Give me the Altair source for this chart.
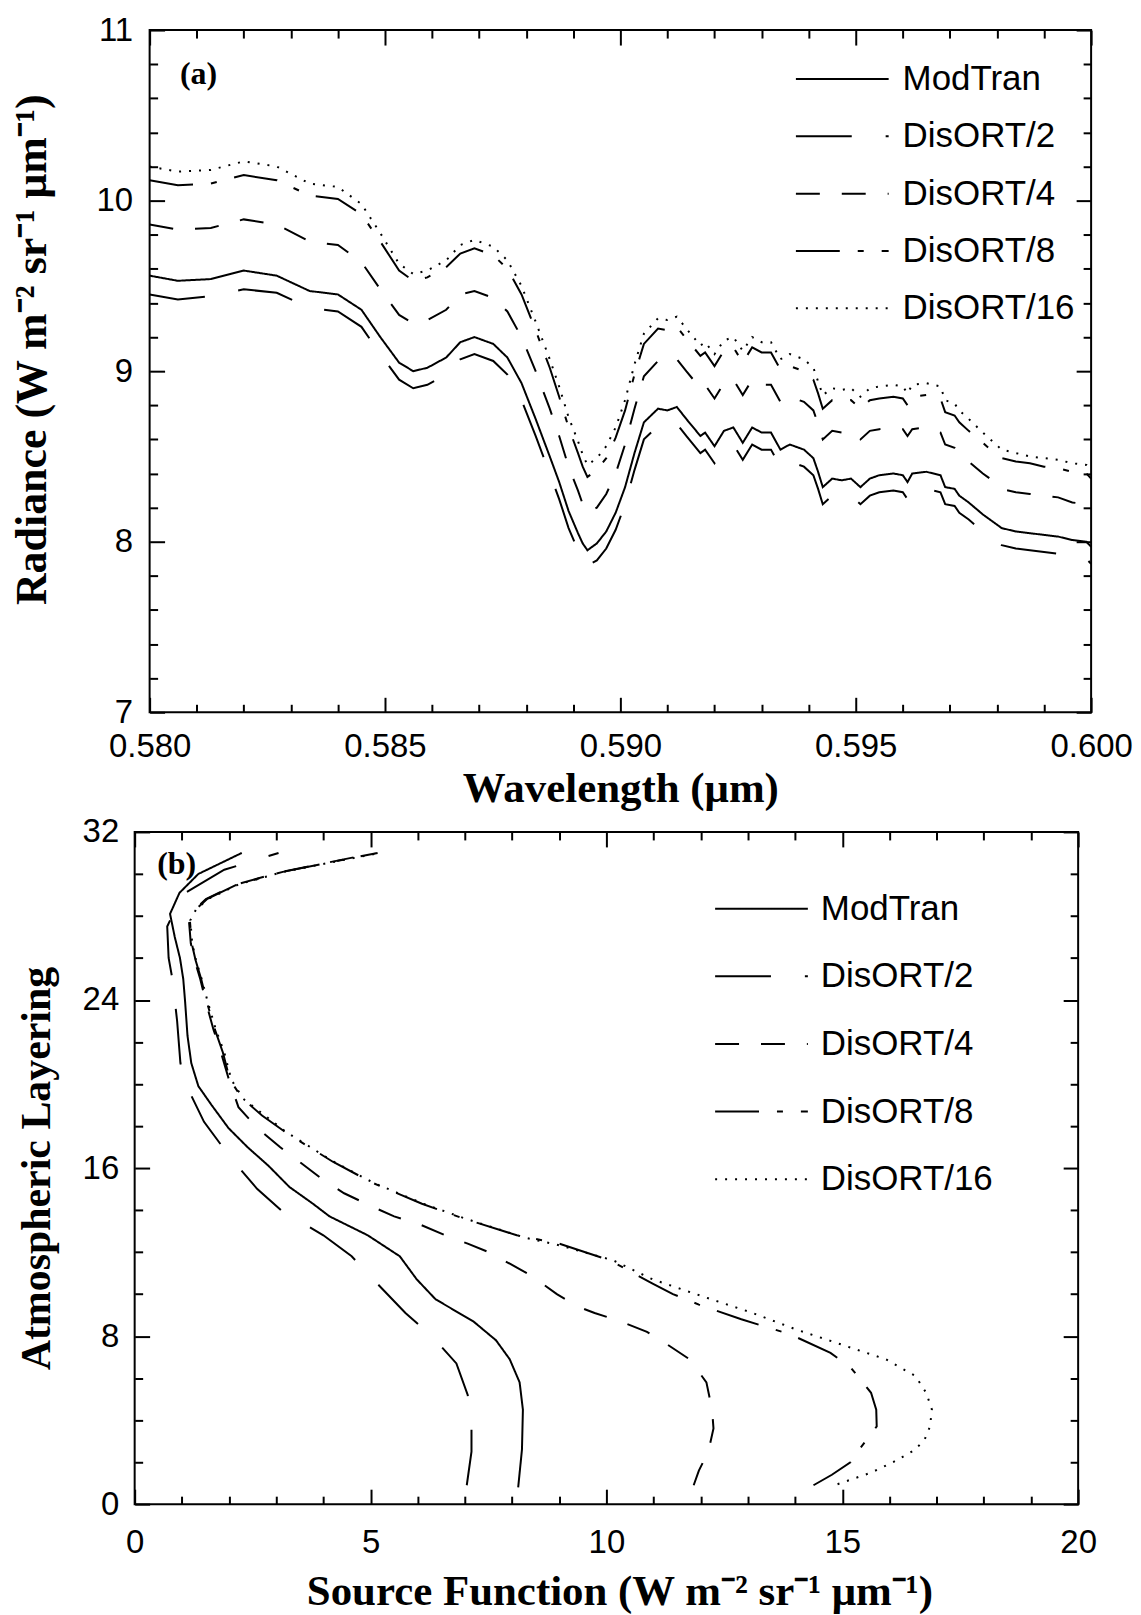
import altair as alt
import pandas as pd

SANS = "Liberation Sans"
SERIF = "Liberation Serif"

SERIES = ["ModTran", "DisORT/2", "DisORT/4", "DisORT/8", "DisORT/16"]
DASHES = [[1, 0], [56, 34], [24, 22], [44, 18, 6, 18], [2, 8]]

# ---------------- panel (a): radiance spectra ----------------
WAVELENGTH = [0.5800, 0.5806, 0.5813, 0.5820, 0.5827, 0.5834, 0.5840, 0.5845, 0.5849, 0.5853,
              0.5856, 0.5859, 0.5863, 0.5866, 0.5869, 0.5873, 0.5876, 0.5879, 0.5882, 0.5885,
              0.5887, 0.5889, 0.5891, 0.5892, 0.5893, 0.5895, 0.5897, 0.5899, 0.5901, 0.5903,
              0.5905, 0.5908, 0.5910, 0.5912, 0.5914, 0.5917, 0.5918, 0.5920, 0.5922, 0.5924,
              0.5926, 0.5928, 0.5930, 0.5932, 0.5934, 0.5936, 0.5939, 0.5941, 0.5942, 0.5943,
              0.5945, 0.5947, 0.5949, 0.5951, 0.5953, 0.5955, 0.5958, 0.5960, 0.5961, 0.5962,
              0.5965, 0.5968, 0.5969, 0.5971, 0.5972, 0.5974, 0.5977, 0.5979, 0.5981, 0.5984,
              0.5987, 0.5990, 0.5993, 0.5996, 0.5999, 0.6000]

RAD_MODTRAN = [9.56, 9.53, 9.54, 9.59, 9.56, 9.47, 9.45, 9.36, 9.20, 9.05,
               9.00, 9.02, 9.08, 9.17, 9.20, 9.16, 9.08, 8.93, 8.72, 8.50,
               8.35, 8.18, 8.05, 7.99, 7.95, 7.99, 8.06, 8.17, 8.32, 8.52,
               8.70, 8.78, 8.77, 8.79, 8.72, 8.62, 8.64, 8.56, 8.65, 8.67,
               8.58, 8.67, 8.64, 8.64, 8.54, 8.57, 8.54, 8.49, 8.41, 8.32,
               8.37, 8.36, 8.37, 8.32, 8.37, 8.39, 8.40, 8.39, 8.35, 8.40,
               8.41, 8.39, 8.32, 8.31, 8.27, 8.23, 8.16, 8.12, 8.08, 8.06,
               8.05, 8.04, 8.03, 8.01, 8.00, 7.97]

RAD_DISORT2 = [9.45, 9.42, 9.44, 9.48, 9.46, 9.37, 9.35, 9.26, 9.10, 8.95,
               8.90, 8.92, 8.98, 9.07, 9.10, 9.06, 8.98, 8.83, 8.62, 8.40,
               8.25, 8.08, 7.95, 7.89, 7.86, 7.89, 7.96, 8.07, 8.22, 8.42,
               8.60, 8.68, 8.67, 8.69, 8.62, 8.52, 8.54, 8.46, 8.55, 8.57,
               8.48, 8.57, 8.54, 8.54, 8.44, 8.47, 8.44, 8.39, 8.31, 8.22,
               8.27, 8.26, 8.27, 8.22, 8.27, 8.29, 8.30, 8.29, 8.25, 8.30,
               8.31, 8.29, 8.22, 8.21, 8.17, 8.13, 8.06, 8.02, 7.98, 7.96,
               7.95, 7.94, 7.93, 7.91, 7.90, 7.87]

RAD_DISORT4 = [9.86, 9.83, 9.84, 9.89, 9.86, 9.76, 9.74, 9.64, 9.48, 9.33,
               9.28, 9.30, 9.36, 9.45, 9.47, 9.43, 9.35, 9.20, 9.00, 8.78,
               8.62, 8.44, 8.30, 8.22, 8.17, 8.20, 8.28, 8.40, 8.57, 8.78,
               8.97, 9.06, 9.05, 9.07, 9.00, 8.90, 8.92, 8.84, 8.93, 8.95,
               8.86, 8.95, 8.92, 8.92, 8.82, 8.85, 8.82, 8.77, 8.69, 8.60,
               8.65, 8.64, 8.65, 8.60, 8.65, 8.66, 8.67, 8.66, 8.62, 8.66,
               8.67, 8.64, 8.57, 8.55, 8.51, 8.47, 8.40, 8.36, 8.31, 8.29,
               8.28, 8.27, 8.26, 8.23, 8.22, 8.19]

RAD_DISORT8 = [10.12, 10.09, 10.10, 10.15, 10.12, 10.03, 10.01, 9.92, 9.76, 9.59,
               9.53, 9.55, 9.61, 9.69, 9.72, 9.68, 9.60, 9.45, 9.24, 9.02,
               8.85, 8.67, 8.52, 8.44, 8.38, 8.42, 8.49, 8.61, 8.77, 8.98,
               9.16, 9.25, 9.24, 9.26, 9.19, 9.09, 9.11, 9.03, 9.12, 9.14,
               9.05, 9.14, 9.11, 9.11, 9.01, 9.03, 9.00, 8.95, 8.87, 8.78,
               8.83, 8.82, 8.83, 8.78, 8.83, 8.84, 8.85, 8.84, 8.80, 8.85,
               8.86, 8.84, 8.76, 8.74, 8.70, 8.65, 8.58, 8.53, 8.49, 8.47,
               8.46, 8.44, 8.43, 8.41, 8.40, 8.37]

RAD_DISORT16 = [10.20, 10.17, 10.18, 10.23, 10.20, 10.10, 10.08, 9.98, 9.81, 9.63,
                9.57, 9.59, 9.65, 9.74, 9.77, 9.73, 9.65, 9.50, 9.29, 9.07,
                8.91, 8.73, 8.59, 8.51, 8.45, 8.49, 8.56, 8.67, 8.83, 9.04,
                9.22, 9.31, 9.30, 9.32, 9.25, 9.15, 9.17, 9.10, 9.18, 9.20,
                9.12, 9.20, 9.17, 9.17, 9.07, 9.10, 9.07, 9.02, 8.94, 8.86,
                8.90, 8.89, 8.90, 8.85, 8.90, 8.91, 8.92, 8.91, 8.87, 8.92,
                8.93, 8.91, 8.83, 8.81, 8.77, 8.72, 8.64, 8.59, 8.54, 8.52,
                8.50, 8.49, 8.48, 8.46, 8.45, 8.42]

# ---------------- panel (b): source function profiles ----------------
LAYER_MODTRAN = [31.0, 30.0, 29.1, 28.1, 27.0, 26.0, 25.0, 23.9, 22.3, 21.0,
                 19.9, 19.0, 17.9, 17.0, 16.1, 15.1, 14.3, 13.7, 12.8, 11.8,
                 10.7, 9.75, 8.7, 7.8, 6.9, 5.8, 4.5, 2.6, 0.8]
SRC_MODTRAN = [2.27, 1.35, 0.95, 0.75, 0.85, 0.96, 1.03, 1.07, 1.12, 1.20,
               1.35, 1.63, 1.99, 2.39, 2.84, 3.28, 3.78, 4.13, 4.94, 5.62,
               5.98, 6.38, 7.18, 7.66, 7.95, 8.16, 8.23, 8.21, 8.13]

LAYER_DISORT2 = [31.0, 30.2, 29.0, 27.5, 26.0, 25.0, 23.0, 21.0, 20.0, 18.2,
                 16.5, 15.0, 14.0, 12.8, 11.8, 10.6, 9.1, 8.0, 6.7, 5.2,
                 3.8, 2.5, 0.9]
SRC_DISORT2 = [3.05, 1.90, 1.00, 0.69, 0.72, 0.80, 0.90, 0.97, 1.08, 1.47,
               2.03, 2.60, 3.10, 4.00, 4.60, 5.10, 5.74, 6.30, 6.82, 7.06,
               7.14, 7.14, 7.04]

LAYER_DISORT4 = [31.0, 30.5, 30.1, 29.5, 28.8, 28.3, 27.8, 26.7, 25.9, 25.0,
                 23.9, 22.6, 21.5, 20.2, 18.9, 17.9, 17.0, 16.25, 15.5, 14.8,
                 14.2, 13.7, 13.3, 12.8, 12.4, 12.0, 11.4, 10.9, 10.0, 9.4,
                 9.1, 8.7, 8.2, 7.6, 6.9, 5.8, 4.5, 3.6, 2.5, 1.6, 0.9]
SRC_DISORT4 = [5.10, 4.00, 3.12, 2.15, 1.51, 1.27, 1.15, 1.19, 1.27, 1.39,
               1.51, 1.67, 1.83, 2.00, 2.20, 2.60, 3.08, 3.52, 3.96, 4.44,
               5.00, 5.50, 6.06, 6.58, 7.06, 7.50, 7.99, 8.39, 8.95, 9.40,
               9.75, 10.30, 10.86, 11.29, 11.76, 12.12, 12.24, 12.27, 12.16, 11.96, 11.85]

LAYER_DISORT8 = [31.0, 30.5, 30.1, 29.5, 28.8, 28.3, 27.8, 26.7, 25.9, 25.0,
                 23.9, 22.6, 21.5, 20.2, 19.35, 18.5, 17.7, 16.3, 15.3, 14.3,
                 13.6, 12.8, 12.4, 11.6, 10.5, 10.0, 9.5, 8.8, 8.5, 8.1,
                 7.2, 6.5, 5.3, 4.5, 3.7, 2.4, 2.0, 1.4, 0.9]
SRC_DISORT8 = [5.15, 4.02, 3.14, 2.17, 1.53, 1.29, 1.17, 1.21, 1.29, 1.41,
               1.53, 1.70, 1.87, 2.02, 2.27, 2.70, 3.20, 4.20, 5.04, 6.09,
               6.97, 8.10, 9.00, 10.08, 10.98, 11.41, 11.96, 12.86, 13.29, 13.88,
               14.75, 15.18, 15.61, 15.72, 15.73, 15.29, 15.18, 14.78, 14.39]

LAYER_DISORT16 = [31.0, 30.5, 30.1, 29.5, 28.8, 28.3, 27.8, 26.7, 25.9, 25.0,
                  23.9, 22.6, 21.5, 20.2, 19.3, 17.7, 16.3, 15.3, 14.3, 13.6,
                  12.7, 12.3, 11.6, 10.7, 9.8, 9.1, 8.3, 7.6, 6.9, 6.1,
                  5.3, 4.5, 3.7, 3.1, 2.6, 2.0, 1.5, 0.95]
SRC_DISORT16 = [5.20, 4.05, 3.15, 2.20, 1.55, 1.30, 1.18, 1.22, 1.30, 1.42,
                1.55, 1.72, 1.90, 2.05, 2.30, 3.22, 4.22, 5.06, 6.12, 7.00,
                8.25, 9.05, 10.15, 10.98, 12.16, 13.10, 14.04, 14.98, 15.92, 16.55,
                16.78, 16.90, 16.86, 16.75, 16.55, 16.08, 15.61, 14.90]

# ---------------- axis ticks ----------------
A_X_MAJOR = [0.580, 0.585, 0.590, 0.595, 0.600]
A_X_MINOR = [0.581, 0.582, 0.583, 0.584, 0.586, 0.587, 0.588, 0.589,
             0.591, 0.592, 0.593, 0.594, 0.596, 0.597, 0.598, 0.599]
A_Y_MAJOR = [7, 8, 9, 10, 11]
A_Y_MINOR = [7.2, 7.4, 7.6, 7.8, 8.2, 8.4, 8.6, 8.8, 9.2, 9.4, 9.6, 9.8,
             10.2, 10.4, 10.6, 10.8]
B_X_MAJOR = [0, 5, 10, 15, 20]
B_X_MINOR = [1, 2, 3, 4, 6, 7, 8, 9, 11, 12, 13, 14, 16, 17, 18, 19]
B_Y_MAJOR = [0, 8, 16, 24, 32]
B_Y_MINOR = [2, 4, 6, 10, 12, 14, 18, 20, 22, 26, 28, 30]

A_X_TITLE = "Wavelength (μm)"
A_Y_TITLE = "Radiance (W m⁻² sr⁻¹ μm⁻¹)"
B_X_TITLE = "Source Function (W m⁻² sr⁻¹ μm⁻¹)"
B_Y_TITLE = "Atmospheric Layering"


def long_frame(xname, yname, groups):
    rows = []
    for name, xs, ys in groups:
        for xv, yv in zip(xs, ys):
            rows.append({xname: xv, yname: yv, "series": name})
    return pd.DataFrame(rows)


df_a = long_frame("wavelength", "radiance", [
    (SERIES[0], WAVELENGTH, RAD_MODTRAN),
    (SERIES[1], WAVELENGTH, RAD_DISORT2),
    (SERIES[2], WAVELENGTH, RAD_DISORT4),
    (SERIES[3], WAVELENGTH, RAD_DISORT8),
    (SERIES[4], WAVELENGTH, RAD_DISORT16),
])
df_b = long_frame("source", "layer", [
    (SERIES[0], SRC_MODTRAN, LAYER_MODTRAN),
    (SERIES[1], SRC_DISORT2, LAYER_DISORT2),
    (SERIES[2], SRC_DISORT4, LAYER_DISORT4),
    (SERIES[3], SRC_DISORT8, LAYER_DISORT8),
    (SERIES[4], SRC_DISORT16, LAYER_DISORT16),
])


def make_panel(df, xf, yf, xdom, ydom, W, H, xtitle, ytitle,
               xmaj, xmin_, ymaj, ymin_, xfmt, yfmt,
               xlabpad, ylabpad, ytitlepad, xtitlesize, ytitlesize,
               legx, legy, legrow, legoff, tag, tagx, tagy, tagsize,
               xtitle_pos, order=None, ytitle_pos=None, lead_px=0):
    # lead_px: blank strip left of the frame (keeps the two frames offset like the original)
    span = xdom[1] - xdom[0]
    x_lo = xdom[0] - span * lead_px / W
    Wt = W + lead_px
    xs = alt.Scale(domain=[x_lo, xdom[1]], nice=False, zero=False)
    ys = alt.Scale(domain=ydom, nice=False, zero=False)

    yaxis_kw = dict(
        orient="left", offset=-lead_px, values=ymaj, format=yfmt, ticks=False, tickSize=0,
        domain=False, grid=False, labelFont=SANS, labelFontSize=33,
        labelColor="black", labelPadding=ylabpad, labelFlush=False,
        labelOverlap=False, title=ytitle, titleFont=SERIF,
        titleFontWeight="bold", titleFontSize=ytitlesize, titleColor="black",
        titlePadding=ytitlepad)
    if ytitle_pos is not None:
        yaxis_kw["titleX"] = ytitle_pos[0]
        yaxis_kw["titleY"] = ytitle_pos[1]

    enc = dict(
        x=alt.X(f"{xf}:Q", scale=xs, axis=alt.Axis(
            orient="bottom", values=xmaj, format=xfmt, ticks=False, tickSize=0,
            domain=False, grid=False, labelFont=SANS, labelFontSize=33,
            labelColor="black", labelPadding=xlabpad, labelFlush=False,
            labelOverlap=False, title=xtitle, titleFont=SERIF,
            titleFontWeight="bold", titleFontSize=xtitlesize, titleColor="black",
            titleX=xtitle_pos[0], titleY=xtitle_pos[1], titleAlign="center",
            titleBaseline="top")),
        y=alt.Y(f"{yf}:Q", scale=ys, axis=alt.Axis(**yaxis_kw)),
        strokeDash=alt.StrokeDash("series:N", scale=alt.Scale(domain=SERIES, range=DASHES),
                                  legend=alt.Legend(
                                      orient="none", legendX=legx + lead_px, legendY=legy,
                                      title=None, symbolType="stroke", symbolSize=8649,
                                      symbolStrokeWidth=2, symbolStrokeColor="black",
                                      clipHeight=34, rowPadding=legrow, labelFont=SANS,
                                      labelFontSize=35, labelColor="black",
                                      labelOffset=legoff, labelLimit=500, padding=0)),
    )
    if order:
        enc["order"] = alt.Order(f"{order}:Q")
    lines = alt.Chart(df).mark_line(color="black", strokeWidth=2).encode(**enc)

    frame = pd.DataFrame({"fx": [xdom[0]], "fx2": [xdom[1]],
                          "fy": [ydom[0]], "fy2": [ydom[1]]})

    box = alt.Chart(frame).mark_rect(fill="transparent", stroke="black",
                                     strokeWidth=2).encode(
        x=alt.X("fx:Q", scale=xs, axis=None), x2="fx2:Q",
        y=alt.Y("fy:Q", scale=ys, axis=None), y2="fy2:Q",
    )

    def tick_layer(xorient, yorient, yoff, xvals, yvals, size):
        def ax(orient, off, vals):
            return alt.Axis(orient=orient, offset=off, values=vals, labels=False,
                            domain=False, grid=False, ticks=True, tickSize=size,
                            tickWidth=2, tickColor="black", title=None)
        return alt.Chart(frame).mark_point(opacity=0).encode(
            x=alt.X("fx:Q", scale=xs, axis=ax(xorient, -H, xvals)),
            y=alt.Y("fy:Q", scale=ys, axis=ax(yorient, yoff, yvals)),
        )

    tag_df = pd.DataFrame({"tx": [tagx], "ty": [tagy], "label": [tag]})
    tags = alt.Chart(tag_df).mark_text(font=SERIF, fontWeight="bold", fontSize=tagsize,
                                       color="black", align="center", baseline="middle").encode(
        x=alt.X("tx:Q", scale=xs, axis=None),
        y=alt.Y("ty:Q", scale=ys, axis=None),
        text="label:N",
    )

    layers = [
        box,
        lines,
        # inward ticks on the bottom and left edges
        tick_layer("top", "right", lead_px - Wt, xmaj, ymaj, 15),
        tick_layer("top", "right", lead_px - Wt, xmin_, ymin_, 8),
        # inward ticks on the top and right edges
        tick_layer("bottom", "left", -Wt, xmaj, ymaj, 15),
        tick_layer("bottom", "left", -Wt, xmin_, ymin_, 8),
        tags,
    ]
    return alt.layer(*layers).resolve_axis(x="independent", y="independent").properties(
        width=Wt, height=H)


panel_a = make_panel(
    df_a, "wavelength", "radiance", [0.580, 0.600], [7, 11], 944, 684,
    A_X_TITLE, A_Y_TITLE, A_X_MAJOR, A_X_MINOR, A_Y_MAJOR, A_Y_MINOR, ".3f", "d",
    18, 17, 36, 43, 44,
    647, 32, 22.5, 13, "(a)", 0.58104, 10.74, 32,
    xtitle_pos=(487, 55), ytitle_pos=(-95, 320), lead_px=15)

panel_b = make_panel(
    df_b, "source", "layer", [0, 20], [0, 32], 946, 674,
    B_X_TITLE, B_Y_TITLE, B_X_MAJOR, B_X_MINOR, B_Y_MAJOR, B_Y_MINOR, "d", "d",
    22, 16, 24, 43, 42,
    581, 60, 32.8, 12, "(b)", 0.89, 30.48, 32,
    xtitle_pos=(486, 67), order="layer")

chart = alt.vconcat(panel_a, panel_b, spacing=4).resolve_scale(
    strokeDash="independent"
).configure_view(
    stroke="transparent"
).properties(
    padding={"left": 2, "top": 3, "right": 0, "bottom": 0},
    background="white",
)

chart.save("out.html", embed_options={"renderer": "svg", "actions": False})
